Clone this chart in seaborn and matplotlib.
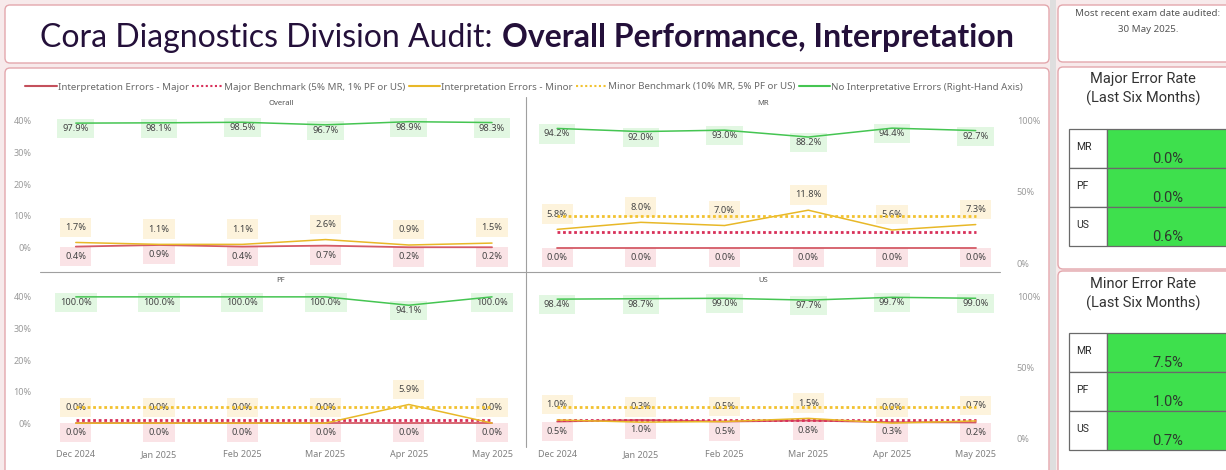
import numpy as np
import pandas as pd
import matplotlib
matplotlib.use("Agg")
import matplotlib.pyplot as plt
import seaborn as sns
from matplotlib.patches import FancyBboxPatch, Rectangle
from matplotlib.lines import Line2D

# ---- data ----
months = ["Dec 2024", "Jan 2025", "Feb 2025", "Mar 2025", "Apr 2025", "May 2025"]

overall_major = [0.4, 0.9, 0.4, 0.7, 0.2, 0.2]
overall_minor = [1.7, 1.1, 1.1, 2.6, 0.9, 1.5]
overall_none = [97.9, 98.1, 98.5, 96.7, 98.9, 98.3]

mr_major = [0.0, 0.0, 0.0, 0.0, 0.0, 0.0]
mr_minor = [5.8, 8.0, 7.0, 11.8, 5.6, 7.3]
mr_none = [94.2, 92.0, 93.0, 88.2, 94.4, 92.7]
mr_major_bench = [5, 5, 5, 5, 5, 5]
mr_minor_bench = [10, 10, 10, 10, 10, 10]

pf_major = [0.0, 0.0, 0.0, 0.0, 0.0, 0.0]
pf_minor = [0.0, 0.0, 0.0, 0.0, 5.9, 0.0]
pf_none = [100.0, 100.0, 100.0, 100.0, 94.1, 100.0]
pf_major_bench = [1, 1, 1, 1, 1, 1]
pf_minor_bench = [5, 5, 5, 5, 5, 5]

us_major = [0.5, 1.0, 0.5, 0.8, 0.3, 0.2]
us_minor = [1.0, 0.3, 0.5, 1.5, 0.0, 0.7]
us_none = [98.4, 98.7, 99.0, 97.7, 99.7, 99.0]
us_major_bench = [1, 1, 1, 1, 1, 1]
us_minor_bench = [5, 5, 5, 5, 5, 5]

rate_labels = ["MR", "PF", "US"]
major_rate = [0.0, 0.0, 0.6]
minor_rate = [7.5, 1.0, 0.7]

legend_labels = ["Interpretation Errors - Major", "Major Benchmark (5% MR, 1% PF or US)",
                 "Interpretation Errors - Minor", "Minor Benchmark (10% MR, 5% PF or US)",
                 "No Interpretative Errors (Right-Hand Axis)"]

# ---- styling ----
PAGE = "#f7eaeb"
BORDER = "#e3a7ad"
TITLE = "#24103a"
RED = "#d45a66"
RED_BENCH = "#d8305a"
YEL = "#e8b828"
YEL_BENCH = "#f2c230"
GREEN = "#45c552"
TABLE_GREEN = "#3ee04d"
TXT = "#444444"
TICK = "#9a9a9a"

sns.set_theme(style="white")
plt.rcParams["font.family"] = ["Noto Sans", "DejaVu Sans"]

W, H = 1226, 470
fig = plt.figure(figsize=(W / 100, H / 100), dpi=100)
fig.patch.set_facecolor(PAGE)

# background axes in pixel coordinates
bg = fig.add_axes([0, 0, 1, 1])
bg.set_xlim(0, W)
bg.set_ylim(H, 0)
bg.axis("off")


def box(x0, y0, x1, y1):
    bg.add_patch(FancyBboxPatch((x0, y0), x1 - x0, y1 - y0,
                                boxstyle="round,pad=0,rounding_size=5",
                                fc="white", ec=BORDER, lw=1.0))


def px_axes(x0, y0, x1, y1):
    return fig.add_axes([x0 / W, 1 - y1 / H, (x1 - x0) / W, (y1 - y0) / H])


bg.add_patch(Rectangle((1050, 0), 6, H, fc="#dedede", ec="none"))
box(5, 5, 1049, 63)
box(5, 68, 1049, 480)
box(1058, 5, 1240, 62)
box(1058, 67, 1240, 269)
box(1058, 271, 1240, 480)

# ---- title, bold part measured so the whole line is centred ----
tfont = ["Lato", "DejaVu Sans"]
t1 = bg.text(0, 47, "Cora Diagnostics Division Audit:", fontsize=20, color=TITLE,
             va="baseline", family=tfont)
t2 = bg.text(0, 47, "Overall Performance, Interpretation", fontsize=20, color=TITLE,
             fontweight="bold", va="baseline", family=tfont)
r = fig.canvas.get_renderer()
total = t1.get_window_extent(r).width + t2.get_window_extent(r).width + 9
fs = 20 * 977 / total
t1.set_fontsize(fs)
t2.set_fontsize(fs)
w1 = t1.get_window_extent(r).width
w2 = t2.get_window_extent(r).width
start = 527 - (w1 + 9 + w2) / 2
t1.set_x(start)
t2.set_x(start + w1 + 9)

# ---- small multiples ----
panels = [
    ("Overall", overall_major, None, overall_minor, None, overall_none, 0, 0),
    ("MR", mr_major, mr_major_bench, mr_minor, mr_minor_bench, mr_none, 0, 1),
    ("PF", pf_major, pf_major_bench, pf_minor, pf_minor_bench, pf_none, 1, 0),
    ("US", us_major, us_major_bench, us_minor, us_minor_bench, us_none, 1, 1),
]
cols = [(40, 522, (-0.43, 5.36)), (527, 1000, (-0.36, 5.29))]
rows = [(100, 268), (277, 443)]
x = np.arange(len(months))


def label(ax, xi, v, dy, bgcol):
    ax.annotate(f"{v:.1f}%", (xi, v), xytext=(0, dy), textcoords="offset points",
                ha="center", va="center", fontsize=6.7, color=TXT, zorder=1,
                bbox=dict(boxstyle="square,pad=0.55", fc=bgcol, ec="none"))


for name, major, mbench, minor, nbench, none, ri, ci in panels:
    x0, x1, xl = cols[ci]
    y0, y1 = rows[ri]
    ax = px_axes(x0, y0, x1, y1)
    ax.set_facecolor("none")
    ax2 = ax.twinx()

    sns.lineplot(x=x, y=major, ax=ax, color=RED, lw=1.3, zorder=3)
    if mbench is not None:
        sns.lineplot(x=x, y=mbench, ax=ax, color=RED_BENCH, lw=2.0,
                     linestyle=(0, (1, 1)), zorder=3)
    sns.lineplot(x=x, y=minor, ax=ax, color=YEL, lw=1.1, zorder=3)
    if nbench is not None:
        sns.lineplot(x=x, y=nbench, ax=ax, color=YEL_BENCH, lw=2.0,
                     linestyle=(0, (1, 1)), zorder=3)
    sns.lineplot(x=x, y=none, ax=ax2, color=GREEN, lw=1.1, zorder=3)

    for i in range(len(months)):
        label(ax, x[i], major[i], -7, "#fae3e6")
        label(ax, x[i], minor[i], 11, "#fdf3dc")
        label(ax2, x[i], none[i], -4, "#e2f7e2")

    ax.set_xlim(*xl)
    ax.set_ylim(-6.3, 46.3)
    ax2.set_ylim(-3, 114)
    for a in (ax, ax2):
        a.set_xlabel("")
        a.set_ylabel("")
        for s in a.spines.values():
            s.set_visible(False)
        a.tick_params(length=0, labelsize=6.5, labelcolor=TICK)

    ax.set_yticks([0, 10, 20, 30, 40])
    ax.set_yticklabels(["0%", "10%", "20%", "30%", "40%"])
    ax.tick_params(axis="y", pad=6)
    ax2.set_yticks([0, 50, 100])
    ax2.set_yticklabels(["0%", "50%", "100%"])
    ax2.tick_params(axis="y", pad=12)
    if ci == 0:
        ax2.tick_params(labelright=False)
    else:
        ax.tick_params(labelleft=False)

    ax.set_xticks(x)
    ax.set_xticklabels(months)
    ax.tick_params(axis="x", pad=5, labelcolor="#808080")
    if ri == 0:
        ax.tick_params(labelbottom=False)

    ax.text(0.5, 1.0, name, transform=ax.transAxes, ha="center", va="top",
            fontsize=5.5, color="#555555")

# dividers between the panels
bg.plot([526, 526], [97, 447], color="#a0a0a0", lw=0.8)
bg.plot([40, 1000], [272, 272], color="#a0a0a0", lw=0.8)

# legend
handles = [Line2D([], [], color="#c4505c", lw=1.5),
           Line2D([], [], color=RED_BENCH, lw=1.5, linestyle=(0, (1, 1.2))),
           Line2D([], [], color=YEL, lw=1.5),
           Line2D([], [], color=YEL_BENCH, lw=1.5, linestyle=(0, (1, 1.2))),
           Line2D([], [], color=GREEN, lw=1.5)]
leg = fig.legend(handles, legend_labels, loc="center", bbox_to_anchor=(524 / W, 1 - 87 / H),
                 ncol=5, frameon=False, fontsize=7, handlelength=3.2, handletextpad=0.1,
                 columnspacing=0.35, labelcolor="#6a6a6a")

# ---- right-hand cards ----
bg.text(1148, 13, "Most recent exam date audited:", ha="center", va="center",
        fontsize=7, color="#555555")
bg.text(1148, 29, "30 May 2025.", ha="center", va="center", fontsize=7, color="#555555")


def rate_card(title, title_y, top, values):
    bg.text(1143, title_y, title, ha="center", va="center", fontsize=10.5,
            color="#333333", family="Roboto")
    bg.text(1143, title_y + 19, "(Last Six Months)", ha="center", va="center",
            fontsize=10.5, color="#333333", family="Roboto")
    h = 39
    for i, (lab, v) in enumerate(zip(rate_labels, values)):
        yt = top + i * h
        bg.add_patch(Rectangle((1069, yt), 38, h, fc="white", ec="#6a6a6a", lw=0.9))
        bg.add_patch(Rectangle((1107, yt), 130, h, fc=TABLE_GREEN, ec="#6a6a6a", lw=0.9))
        bg.text(1076, yt + h * 0.47, lab, ha="left", va="center", fontsize=7.5,
                color="#2a2a2a", family="Roboto")
        bg.text(1168, yt + h * 0.78, f"{v:.1f}%", ha="center", va="center",
                fontsize=10.5, color="#2e3a2e", family="Roboto")


rate_card("Major Error Rate", 79, 129, major_rate)
rate_card("Minor Error Rate", 284, 333, minor_rate)

fig.savefig("out.png", dpi=100, facecolor=fig.get_facecolor())
